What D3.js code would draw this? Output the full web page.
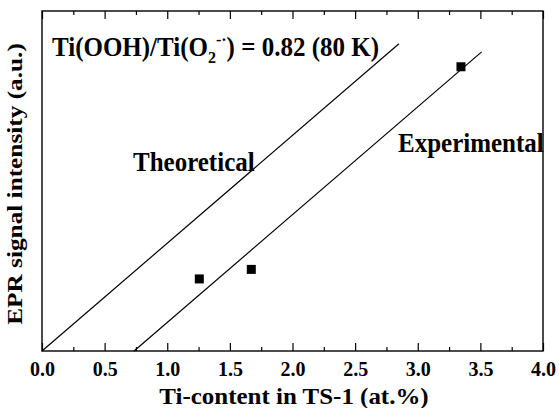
<!DOCTYPE html>
<html>
<head>
<meta charset="utf-8">
<script src="https://cdn.jsdelivr.net/npm/d3@7"></script>
<style>
  body { margin: 0; background: #fff; }
  svg text { font-family: "Liberation Serif", "Times New Roman", serif !important; font-weight: bold; fill: #000; }
</style>
</head>
<body>
<svg id="chart" width="559" height="408"></svg>
<script>
// Measured EPR intensity vs Ti content
const tiContent = [1.256, 1.671, 3.345];
const eprIntensity = [0.212, 0.240, 0.836];

// Reference lines: theoretical passes through origin; experimental is offset
const slope = 0.317;
const theoreticalX = [0, 2.85];
const experimentalX = [0.735, 3.51];

const xTicks = [0, 0.5, 1, 1.5, 2, 2.5, 3, 3.5, 4];
const xMinorTicks = [0.25, 0.75, 1.25, 1.75, 2.25, 2.75, 3.25, 3.75];

const svg = d3.select("#chart");
const plotLeft = 42, plotRight = 543, plotTop = 11, plotBottom = 351;
const serif = '"Liberation Serif", "Times New Roman", serif';

const x = d3.scaleLinear().domain([0, 4]).range([plotLeft, plotRight]);
const y = d3.scaleLinear().domain([0, 1]).range([plotBottom, plotTop]);

// frame
svg.append("rect")
  .attr("x", plotLeft).attr("y", plotTop)
  .attr("width", plotRight - plotLeft).attr("height", plotBottom - plotTop)
  .attr("fill", "none").attr("stroke", "#000").attr("stroke-width", 1.4);

// bottom axis: inward ticks
const bottomAxis = d3.axisBottom(x).tickValues(xTicks).tickSize(-8).tickFormat(d3.format(".1f")).tickPadding(11);
const gB = svg.append("g").attr("transform", `translate(0,${plotBottom})`).call(bottomAxis)
  .attr("font-family", serif).attr("font-size", 20);
gB.select(".domain").remove();
gB.selectAll("line").attr("stroke-width", 1.2);
gB.selectAll("text").attr("font-weight", "bold");

const gBm = svg.append("g").attr("transform", `translate(0,${plotBottom})`)
  .call(d3.axisBottom(x).tickValues(xMinorTicks).tickSize(-4).tickFormat(""));
gBm.select(".domain").remove();
gBm.selectAll("line").attr("stroke-width", 1.2);

// top axis: inward ticks
const gT = svg.append("g").attr("transform", `translate(0,${plotTop})`)
  .call(d3.axisTop(x).tickValues(xTicks).tickSize(-8).tickFormat(""));
gT.select(".domain").remove();
gT.selectAll("line").attr("stroke-width", 1.2);
const gTm = svg.append("g").attr("transform", `translate(0,${plotTop})`)
  .call(d3.axisTop(x).tickValues(xMinorTicks).tickSize(-4).tickFormat(""));
gTm.select(".domain").remove();
gTm.selectAll("line").attr("stroke-width", 1.2);

// lines
const line = d3.line().x(d => x(d[0])).y(d => y(d[1]));
svg.append("path")
  .datum(theoreticalX.map(v => [v, slope * v]))
  .attr("d", line).attr("fill", "none").attr("stroke", "#000").attr("stroke-width", 1.2);
svg.append("path")
  .datum(experimentalX.map(v => [v, slope * (v - experimentalX[0])]))
  .attr("d", line).attr("fill", "none").attr("stroke", "#000").attr("stroke-width", 1.2);

// points
const sq = 9;
svg.append("g").selectAll("rect")
  .data(tiContent.map((v, i) => [v, eprIntensity[i]]))
  .join("rect")
  .attr("x", d => x(d[0]) - sq / 2).attr("y", d => y(d[1]) - sq / 2)
  .attr("width", sq).attr("height", sq).attr("fill", "#000");

// text helper: lettering anchored on the baseline, optionally stretched
function label(px, py, size, sx, sy) {
  return svg.append("text")
    .attr("transform", `translate(${px},${py}) scale(${sx},${sy})`)
    .attr("font-size", size).attr("font-family", serif);
}

// annotations
const ann = label(52, 56, 25, 1, 1.1);
ann.append("tspan").text("Ti(OOH)/Ti(O");
ann.append("tspan").attr("font-size", 16).attr("dy", 6).text("2");
ann.append("tspan").attr("font-size", 16).attr("dy", -16).text("-·");
ann.append("tspan").attr("dy", 10).text(") = 0.82 (80 K)");

label(133, 171, 25, 1, 1.1).text("Theoretical");
label(398, 152, 25, 1, 1.1).text("Experimental");

// axis titles
label(294, 404, 24, 1.04, 1).attr("text-anchor", "middle").text("Ti-content in TS-1 (at.%)");
svg.append("text")
  .attr("transform", `translate(22,${(plotTop + plotBottom) / 2 + 3}) rotate(-90) scale(1.15,1)`)
  .attr("font-family", serif)
  .attr("text-anchor", "middle").attr("font-size", 22).text("EPR signal intensity (a.u.)");
</script>
</body>
</html>
